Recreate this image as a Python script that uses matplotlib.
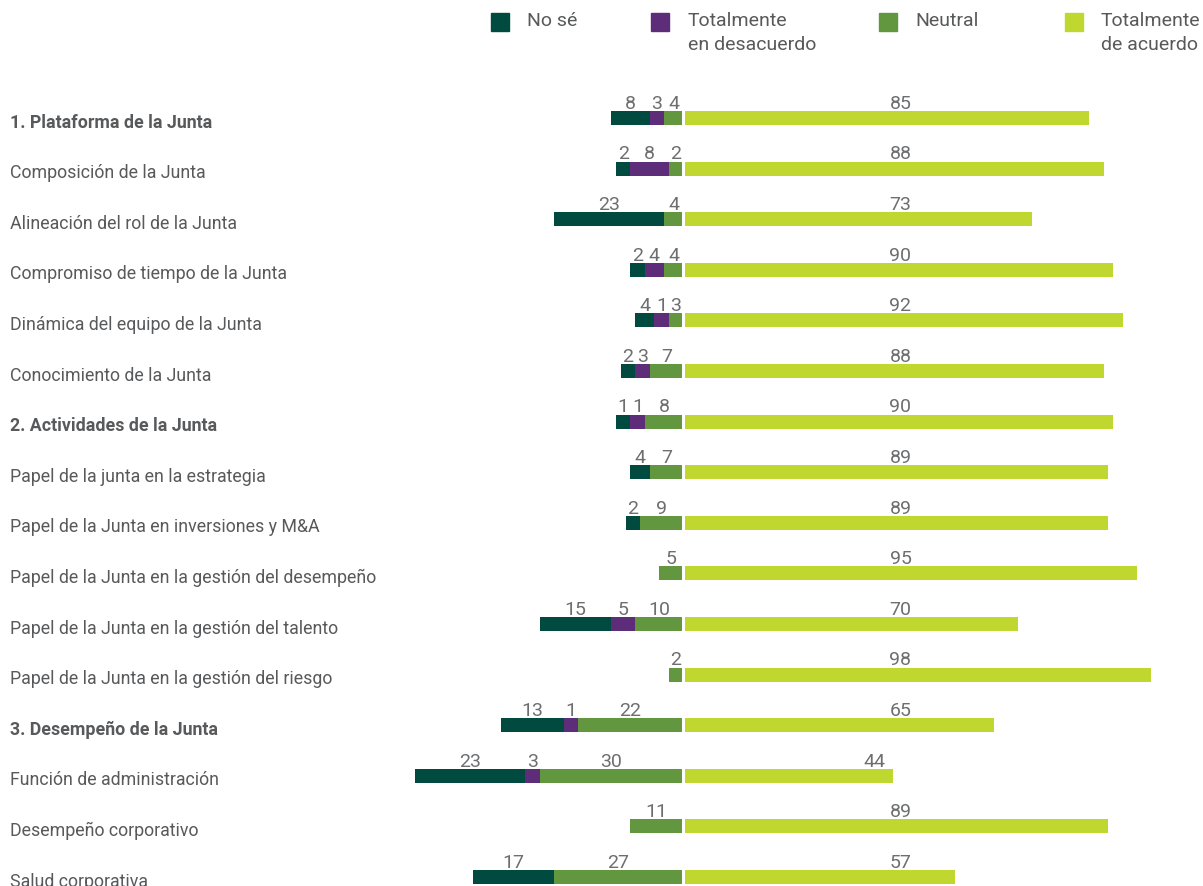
import matplotlib
matplotlib.use("Agg")
import matplotlib.pyplot as plt
import matplotlib.transforms as mtransforms
from matplotlib.patches import Rectangle

plt.rcParams['font.family'] = ['Roboto', 'DejaVu Sans']

categories = [
    "1. Plataforma de la Junta",
    "Composición de la Junta",
    "Alineación del rol de la Junta",
    "Compromiso de tiempo de la Junta",
    "Dinámica del equipo de la Junta",
    "Conocimiento de la Junta",
    "2. Actividades de la Junta",
    "Papel de la junta en la estrategia",
    "Papel de la Junta en inversiones y M&A",
    "Papel de la Junta en la gestión del desempeño",
    "Papel de la Junta en la gestión del talento",
    "Papel de la Junta en la gestión del riesgo",
    "3. Desempeño de la Junta",
    "Función de administración",
    "Desempeño corporativo",
    "Salud corporativa",
]
headers = [0, 6, 12]

no_se = [8, 2, 23, 2, 4, 2, 1, 4, 2, 0, 15, 0, 13, 23, 0, 17]
desacuerdo = [3, 8, 0, 4, 1, 3, 1, 0, 0, 0, 5, 0, 1, 3, 0, 0]
neutral = [4, 2, 4, 4, 3, 7, 8, 7, 9, 5, 10, 2, 22, 30, 11, 27]
acuerdo = [85, 88, 73, 90, 92, 88, 90, 89, 89, 95, 70, 98, 65, 44, 89, 57]

legend_labels = ["No sé", "Totalmente\nen desacuerdo", "Neutral", "Totalmente\nde acuerdo"]
colors = ["#004a40", "#5e2d7a", "#62963f", "#c0d72f"]
text_color = "#58595b"
num_color = "#6d6e70"

fig = plt.figure(figsize=(12.03, 8.87), dpi=100)
W, H = 1203, 887
ax = fig.add_axes([400 / W, 0, 803 / W, (887 - 90) / H])
scale = 4.78
ax.set_xlim(-(683 - 400) / scale, (1203 - 683) / scale)
step = 50.6
ax.set_ylim((887 - 119) / step, (90 - 119) / step)
ax.axis("off")

n = len(categories)
ys = list(range(n))
h = 14 / step

# small non-zero segments get a minimum drawn width so they stay visible
MIN_W = 3.0
def shown(v):
    return [max(x, MIN_W) if x > 0 else 0 for x in v]

neu_w = shown(neutral)
des_w = shown(desacuerdo)
nos_w = shown(no_se)

# left side: neutral next to the centre, then desacuerdo, then no sé
left_neutral = [-a for a in neu_w]
left_des = [-(a + b) for a, b in zip(neu_w, des_w)]
left_nose = [-(a + b + c) for a, b, c in zip(neu_w, des_w, nos_w)]

ax.barh(ys, neu_w, left=left_neutral, height=h, color=colors[2], linewidth=0)
ax.barh(ys, des_w, left=left_des, height=h, color=colors[1], linewidth=0)
ax.barh(ys, nos_w, left=left_nose, height=h, color=colors[0], linewidth=0)
ax.barh(ys, acuerdo, left=0, height=h, color=colors[3], linewidth=0)
ax.axvline(0, color="white", lw=2.2, zorder=5)

lab_kw = dict(ha="center", va="baseline", fontsize=14, color=num_color)
for i in ys:
    y_lab = i - 0.2
    for vals, widths, lefts in ((neutral, neu_w, left_neutral),
                                (desacuerdo, des_w, left_des),
                                (no_se, nos_w, left_nose)):
        if vals[i] > 0:
            ax.text(lefts[i] + widths[i] / 2, y_lab, str(vals[i]), **lab_kw)
    ax.text(min(45.5, acuerdo[i] - 4), y_lab, str(acuerdo[i]), **lab_kw)

trans = mtransforms.blended_transform_factory(fig.transFigure, ax.transData)
for i, cat in enumerate(categories):
    bold = i in headers
    ax.text(10 / W, i + 0.07, cat, transform=trans, ha="left", va="center",
            fontsize=12.8, color=text_color,
            fontweight="bold" if bold else "normal")

# legend
sq_x = [491, 651, 879, 1065]
tx_x = [527, 688, 915, 1101]
for c, lab, sx, tx in zip(colors, legend_labels, sq_x, tx_x):
    fig.patches.append(Rectangle((sx / W, 1 - 32 / H), 18 / W, 18 / H,
                                 transform=fig.transFigure, color=c))
    fig.text(tx / W, 1 - 12 / H, lab, ha="left", va="top", fontsize=14,
             color=text_color, linespacing=1.45)

fig.savefig("out.png", dpi=100)
